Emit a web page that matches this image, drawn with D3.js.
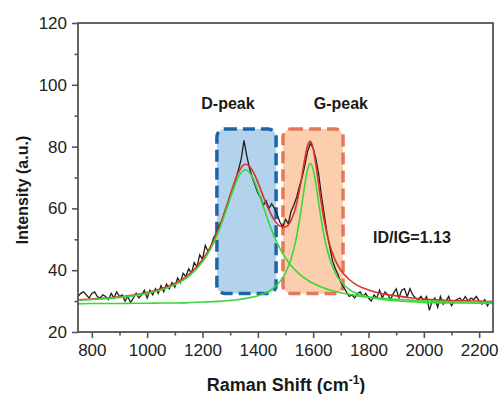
<!DOCTYPE html>
<html>
<head>
  <meta charset="UTF-8">
  <title>raman</title>
  <style>
  body, html, svg {
    padding: 0;
    margin: 0;
  }
  body {
    background: #fff;
    font-family: "Liberation Sans", Arial, sans-serif;
  }
  .tick text {
    font-size: 17px;
    fill: #222;
  }
  .bold {
    font-weight: bold;
    fill: #1a1a1a;
  }
  </style>
</head>
<body>
  <script src="https://d3js.org/d3.v7.min.js"></script>
  <script type="text/javascript">
  // raw spectrum (every 10 cm-1 from 750 to 2250)
  var rawStart = 750, rawStep = 10;
  var rawY = [
    31.5, 32.5, 33.0, 32.0, 31.0, 32.5, 33.0, 31.5, 31.0, 32.0,
    31.5, 30.5, 32.5, 31.0, 33.0, 31.5, 32.0, 30.0, 31.5, 29.5,
    31.0, 32.5, 31.0, 32.0, 33.5, 31.0, 33.5, 32.0, 34.0, 32.5,
    35.0, 33.0, 35.5, 34.0, 36.0, 34.5, 37.5, 36.0, 39.0, 38.0,
    40.5, 39.0, 42.5, 41.0, 45.0, 43.5, 48.0, 46.0, 47.5, 50.5,
    52.0, 54.5, 56.0, 58.5, 61.0, 64.0, 66.0, 69.5, 72.5, 76.0,
    82.0, 77.0, 73.0, 70.0, 67.5, 65.0, 63.5, 61.0, 62.5, 60.0,
    61.5, 60.0, 58.0, 55.5, 54.0, 56.5, 55.0, 59.0, 61.0, 63.5,
    67.0, 70.0, 74.0, 78.5, 81.0, 79.5, 76.0, 71.0, 64.0, 58.0,
    52.0, 47.5, 43.0, 40.5, 38.5, 36.0, 34.5, 33.0, 31.5, 32.0,
    31.0, 32.5, 33.0, 31.5, 32.5, 31.0, 30.0, 32.0, 31.0, 33.5,
    31.0, 33.0, 32.0, 30.5, 32.5, 34.0, 31.0, 33.5, 34.0, 31.5,
    34.0, 32.0, 31.0, 30.5, 31.5, 30.0, 31.5, 27.0, 30.0, 31.0,
    28.0, 31.5, 29.0, 30.0, 31.5, 28.5, 30.0, 30.5, 31.0, 30.0,
    31.5, 30.0, 31.0, 30.5, 31.5, 30.0, 29.0, 30.5, 28.5, 30.0,
    29.5
  ];

  // fitted curves
  var fitX = [750, 800, 850, 900, 950, 1000, 1050, 1100, 1150, 1200,
    1230, 1260, 1290, 1310, 1330, 1355, 1380, 1400, 1420, 1440,
    1460, 1480, 1500, 1520, 1540, 1555, 1570, 1580, 1590, 1600,
    1610, 1625, 1640, 1660, 1680, 1700, 1730, 1760, 1800, 1850,
    1900, 1950, 2000, 2100, 2200, 2250];
  var fitD = [30.3, 30.5, 30.8, 31.2, 31.7, 32.5, 33.6, 35.3, 38.0, 42.7,
    47.0, 52.9, 60.5, 65.8, 70.2, 72.5, 70.2, 65.8, 60.5, 55.3,
    50.8, 47.0, 44.0, 41.5, 39.6, 38.4, 37.4, 36.8, 36.2, 35.8,
    35.3, 34.7, 34.2, 33.6, 33.1, 32.7, 32.2, 31.7, 31.3, 30.9,
    30.6, 30.3, 30.1, 29.8, 29.7, 29.6];
  var fitG = [29.1, 29.2, 29.2, 29.2, 29.3, 29.3, 29.4, 29.4, 29.5, 29.7,
    29.8, 29.9, 30.1, 30.3, 30.5, 30.8, 31.3, 31.7, 32.4, 33.2,
    34.5, 36.3, 39.1, 43.6, 50.8, 58.7, 67.8, 72.6, 74.5, 72.6,
    67.8, 58.7, 50.8, 43.6, 39.1, 36.3, 33.8, 32.4, 31.3, 30.5,
    30.1, 29.8, 29.6, 29.4, 29.3, 29.2];
  var fitSum = [30.4, 30.7, 31.0, 31.4, 32.0, 32.8, 34.0, 35.7, 38.6, 43.4,
    47.8, 53.9, 61.6, 67.1, 71.7, 74.3, 72.4, 68.5, 63.8, 59.5,
    56.2, 54.3, 54.0, 56.1, 61.4, 68.1, 76.2, 80.4, 81.7, 79.4,
    74.1, 64.4, 56.0, 48.2, 43.2, 40.0, 37.0, 35.1, 33.6, 32.4,
    31.7, 31.1, 30.7, 30.2, 30.0, 29.8];

  // highlighted regions and their labels
  var regionNames = ['D-peak', 'G-peak'];
  var regionX0 = [1252, 1491];
  var regionX1 = [1466, 1708];
  var regionY0 = [32.5, 32.5];
  var regionY1 = [85.7, 85.7];
  var labelX = [1292, 1700];
  var labelY = [92.2, 92.2];

  var ratioText = 'ID/IG=1.13';
  var ratioX = 1957, ratioY = 48.8;

  var xTicks = [800, 1000, 1200, 1400, 1600, 1800, 2000, 2200];
  var xMinor = [900, 1100, 1300, 1500, 1700, 1900, 2100];
  var yTicks = [20, 40, 60, 80, 100, 120];
  var yMinor = [30, 50, 70, 90, 110];

  var width = 502, height = 394;
  var margin = {top: 23, right: 9, bottom: 62, left: 78};
  var w = width - margin.left - margin.right;
  var h = height - margin.top - margin.bottom;

  var svg = d3.select('body')
    .append('svg')
    .attr('width', width)
    .attr('height', height);

  var g = svg.append('g')
    .attr('transform', 'translate(' + margin.left + ',' + margin.top + ')');

  var x = d3.scaleLinear().domain([750, 2250]).range([0, w]);
  var y = d3.scaleLinear().domain([20, 120]).range([h, 0]);

  //区域
  var fills = ['#b3d3ed', '#fbcfae'];
  var strokes = ['#1f64a6', '#e2785c'];
  regionNames.forEach(function(name, i){
    g.append('rect')
      .attr('x', x(regionX0[i]))
      .attr('y', y(regionY1[i]))
      .attr('width', x(regionX1[i]) - x(regionX0[i]))
      .attr('height', y(regionY0[i]) - y(regionY1[i]))
      .attr('rx', 8)
      .attr('fill', fills[i])
      .attr('stroke', strokes[i])
      .attr('stroke-width', 3.5)
      .attr('stroke-dasharray', '12,6');
    g.append('text')
      .attr('class', 'bold')
      .attr('x', x(labelX[i]))
      .attr('y', y(labelY[i]))
      .attr('text-anchor', 'middle')
      .style('font-size', '16px')
      .text(name);
  });

  //曲线
  var rawLine = d3.line()
    .x(function(d, i){ return x(rawStart + i * rawStep); })
    .y(function(d){ return y(d); });

  var fitLine = function(arr){
    return d3.line()
      .curve(d3.curveMonotoneX)
      .x(function(d, i){ return x(fitX[i]); })
      .y(function(d){ return y(d); })(arr);
  };

  g.append('path')
    .attr('d', rawLine(rawY))
    .attr('fill', 'none')
    .attr('stroke', '#1e1e1e')
    .attr('stroke-width', 1.3);

  g.append('path')
    .attr('d', fitLine(fitSum))
    .attr('fill', 'none')
    .attr('stroke', '#d9322b')
    .attr('stroke-width', 1.6);

  [fitD, fitG].forEach(function(arr){
    g.append('path')
      .attr('d', fitLine(arr))
      .attr('fill', 'none')
      .attr('stroke', '#3ad63a')
      .attr('stroke-width', 1.6);
  });

  //坐标轴
  var axisColor = '#555';
  var xAxis = g.append('g')
    .attr('transform', 'translate(0,' + h + ')')
    .call(d3.axisBottom(x).tickValues(xTicks).tickSize(6).tickPadding(6).tickFormat(d3.format('d')));
  var xAxisMinor = g.append('g')
    .attr('transform', 'translate(0,' + h + ')')
    .call(d3.axisBottom(x).tickValues(xMinor).tickSize(3.5).tickFormat(''));
  var yAxis = g.append('g')
    .call(d3.axisLeft(y).tickValues(yTicks).tickSize(6).tickPadding(5));
  var yAxisMinor = g.append('g')
    .call(d3.axisLeft(y).tickValues(yMinor).tickSize(3.5).tickFormat(''));

  [xAxis, xAxisMinor, yAxis, yAxisMinor].forEach(function(a){
    a.selectAll('path, line').attr('stroke', axisColor).attr('stroke-width', 1.6);
    a.select('.domain').remove();
  });

  g.append('rect')
    .attr('width', w)
    .attr('height', h)
    .attr('fill', 'none')
    .attr('stroke', axisColor)
    .attr('stroke-width', 1.8);

  //标题
  var xt = svg.append('text')
    .attr('class', 'bold')
    .attr('x', 286)
    .attr('y', 391)
    .attr('text-anchor', 'middle')
    .style('font-size', '18px');
  xt.append('tspan').text('Raman Shift (cm');
  xt.append('tspan').attr('dy', -7).style('font-size', '12px').text('-1');
  xt.append('tspan').attr('dy', 7).text(')');

  svg.append('text')
    .attr('class', 'bold')
    .attr('transform', 'translate(28,190) rotate(-90)')
    .attr('text-anchor', 'middle')
    .style('font-size', '16px')
    .text('Intensity (a.u.)');

  g.append('text')
    .attr('class', 'bold')
    .attr('x', x(ratioX))
    .attr('y', y(ratioY))
    .attr('text-anchor', 'middle')
    .style('font-size', '16px')
    .text(ratioText);
  </script>
</body>
</html>
